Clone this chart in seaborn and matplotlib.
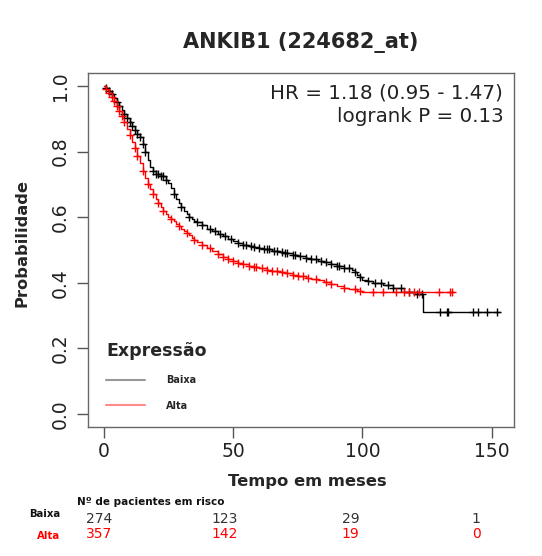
import numpy as np
import pandas as pd
import matplotlib
matplotlib.use("Agg")
import matplotlib.pyplot as plt
from matplotlib.lines import Line2D
import seaborn as sns

# ---------------- data ----------------
title = "ANKIB1 (224682_at)"
groups = ["Baixa", "Alta"]
group_colors = ["#000000", "#ff0000"]

baixa_t = [0, 1, 2, 3, 4, 5, 6, 7, 8, 9, 10, 11, 12, 13, 14, 15, 16, 17, 18, 19, 20, 22, 24, 25,
           26, 27, 28, 29, 30, 31, 32, 33, 34, 35, 36, 38, 40, 42, 44, 46, 48, 50, 52, 54, 56,
           58, 60, 62, 65, 68, 70, 73, 75, 78, 80, 83, 85, 88, 90, 93, 96, 97, 98, 99, 100,
           102, 104, 108, 112, 116, 120, 123.5, 153]
baixa_s = [1.0, 0.995, 0.985, 0.975, 0.965, 0.952, 0.94, 0.928, 0.915, 0.902, 0.89, 0.877,
           0.865, 0.855, 0.845, 0.822, 0.80, 0.775, 0.752, 0.74, 0.732, 0.725, 0.715, 0.703,
           0.69, 0.672, 0.655, 0.642, 0.63, 0.62, 0.61, 0.60, 0.595, 0.59, 0.585, 0.575, 0.565,
           0.557, 0.55, 0.542, 0.535, 0.528, 0.52, 0.516, 0.512, 0.508, 0.505, 0.502, 0.497,
           0.493, 0.49, 0.486, 0.482, 0.476, 0.472, 0.466, 0.462, 0.456, 0.452, 0.445, 0.438,
           0.432, 0.425, 0.418, 0.41, 0.405, 0.40, 0.392, 0.383, 0.372, 0.365, 0.31, 0.31]
alta_t = [0, 1, 2, 3, 4, 5, 6, 7, 8, 9, 10, 11, 12, 13, 14, 15, 16, 17, 18, 19, 20, 21, 22, 23,
          24, 25, 26, 27, 28, 29, 30, 31, 32, 33, 34, 35, 36, 38, 40, 42, 44, 46, 48, 50, 52,
          54, 56, 58, 60, 63, 65, 68, 70, 73, 75, 78, 80, 83, 85, 88, 90, 93, 95, 98, 100, 135]
alta_s = [1.0, 0.99, 0.98, 0.968, 0.955, 0.94, 0.925, 0.908, 0.89, 0.87, 0.85, 0.83, 0.81,
          0.787, 0.765, 0.742, 0.72, 0.702, 0.685, 0.67, 0.655, 0.642, 0.63, 0.62, 0.61, 0.602,
          0.595, 0.587, 0.58, 0.572, 0.565, 0.558, 0.552, 0.545, 0.538, 0.531, 0.525, 0.515,
          0.505, 0.496, 0.488, 0.48, 0.472, 0.466, 0.46, 0.456, 0.452, 0.448, 0.445, 0.44,
          0.437, 0.433, 0.43, 0.425, 0.422, 0.416, 0.413, 0.407, 0.403, 0.395, 0.39, 0.384,
          0.38, 0.375, 0.372, 0.372]

baixa_cens = [1, 2, 3, 5, 6, 8, 9, 10, 11, 12, 13, 14, 15, 16, 19, 20, 21, 22, 23, 24, 27, 30,
              33, 36, 38, 41, 43, 45, 47, 49, 52, 54, 55, 57, 58, 60, 62, 63, 64, 66, 67, 69, 70,
              71, 73, 74, 76, 78, 80, 82, 84, 86, 88, 90, 91, 93, 95, 97, 99, 102, 105, 107, 110,
              112, 115, 118, 121, 123, 130, 132.6, 133.2, 142.6, 144.5, 148, 152]
alta_cens = [1, 2, 3, 4, 5, 6, 7, 8, 10, 12, 13, 15, 17, 19, 21, 23, 26, 29, 32, 35, 38, 41, 44,
             46, 48, 50, 52, 54, 56, 58, 59, 61, 63, 65, 67, 69, 71, 73, 75, 77, 79, 82, 86, 88,
             93, 97, 99, 104, 108, 113, 116, 118, 120, 122, 129.5, 133.7, 134.5]

hr_text = "HR = 1.18 (0.95 - 1.47)"
p_text = "logrank P = 0.13"
risk_times = [0, 50, 100, 150]
risk_baixa = [274, 123, 29, 1]
risk_alta = [357, 142, 19, 0]

# ---------------- figure ----------------
sns.set_theme(style="white")
plt.rcParams["font.family"] = ["DejaVu Sans"]

W, H = 542, 556
fig = plt.figure(figsize=(W / 100, H / 100), dpi=100)
L, R, T, B = 88, 514, 73, 427
ax = fig.add_axes([L / W, 1 - B / H, (R - L) / W, (B - T) / H])

def step_value(ts, ss, x):
    idx = np.searchsorted(np.asarray(ts), x, side="right") - 1
    return np.asarray(ss)[idx]

curves = [(baixa_t, baixa_s, baixa_cens), (alta_t, alta_s, alta_cens)]
for g, col, (ts, ss, cs) in zip(groups, group_colors, curves):
    df = pd.DataFrame({"t": ts, "s": ss})
    sns.lineplot(data=df, x="t", y="s", ax=ax, color=col, lw=1.0, drawstyle="steps-post",
                 estimator=None, sort=False)
    cdf = pd.DataFrame({"t": cs, "s": step_value(ts, ss, cs)})
    sns.scatterplot(data=cdf, x="t", y="s", ax=ax, color=col, marker="+", s=26,
                    linewidth=1.0, zorder=3)

ax.set_xlim(-6.1, 158.6)
ax.set_ylim(-0.04, 1.04)
ax.set_xticks([0, 50, 100, 150])
ax.set_yticks([0.0, 0.2, 0.4, 0.6, 0.8, 1.0])
ax.set_yticklabels(["0.0", "0.2", "0.4", "0.6", "0.8", "1.0"], rotation=90, va="center")
ax.tick_params(axis="both", which="both", direction="out", length=8, width=1.0,
               color="#555555", labelsize=13.5, labelcolor="#222222", bottom=True, left=True)
ax.tick_params(axis="x", pad=3)
ax.tick_params(axis="y", pad=5)
for sp in ax.spines.values():
    sp.set_color("#666666")
    sp.set_linewidth(1.0)

ax.set_xlabel("Tempo em meses", fontsize=11.8, fontweight="bold")
ax.xaxis.set_label_coords(0.515, -0.133)
ax.set_ylabel("Probabilidade", fontsize=11.7, fontweight="bold")
ax.yaxis.set_label_coords(-0.137, 0.52)
ax.set_title(title, fontsize=15, fontweight="bold", pad=18, x=0.5)

ax.text(0.975, 0.943, hr_text, transform=ax.transAxes, ha="right", va="center",
        fontsize=14.3, color="#222222")
ax.text(0.975, 0.876, p_text, transform=ax.transAxes, ha="right", va="center",
        fontsize=14.3, color="#222222")

handles = [Line2D([], [], color="#999999", lw=1.5), Line2D([], [], color="#ff8a8a", lw=1.5)]
leg = ax.legend(handles, groups, title="Expressão", loc="upper left",
                bbox_to_anchor=(0.022, 0.266), frameon=False, handlelength=4.0,
                handletextpad=2.2, labelspacing=1.6,
                prop={"size": 7, "weight": "bold"},
                title_fontproperties={"size": 12.5, "weight": "bold"})
leg._legend_box.align = "left"

# risk table axes
rax = fig.add_axes([L / W, 0, (R - L) / W, 1 - 490 / H])
rax.set_xlim(-4.4, 165.1)
rax.set_ylim(0, 66)
rax.axis("off")
rax.text(-8.8, 54, "Nº de pacientes em risco", fontsize=7.5, fontweight="bold",
         ha="left", va="center", color="#111111")
for t, nb, na in zip(risk_times, risk_baixa, risk_alta):
    rax.text(t, 37, str(nb), ha="center", va="center", fontsize=10, color="#333333")
    rax.text(t, 22, str(na), ha="center", va="center", fontsize=10, color="#ff0000")
rax.text(-15.5, 42, "Baixa", ha="right", va="center", fontsize=7.3, fontweight="bold",
         color="#111111")
rax.text(-15.5, 20, "Alta", ha="right", va="center", fontsize=7.3, fontweight="bold",
         color="#ff0000")

fig.savefig("out.png", dpi=100)
